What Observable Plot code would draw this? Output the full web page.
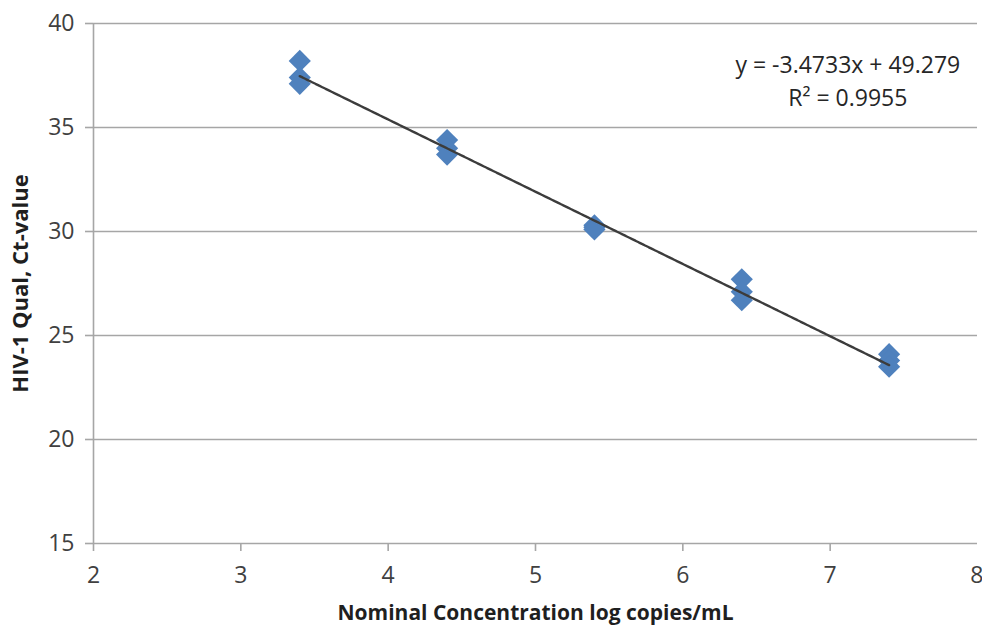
<!DOCTYPE html>
<html><head><meta charset="utf-8">
<script src="https://cdn.jsdelivr.net/npm/d3@7"></script>
<script src="https://cdn.jsdelivr.net/npm/@observablehq/plot@0.6"></script>
<style>body{margin:0;background:#fff}</style>
</head><body><div id="chart"></div>
<script>
const concentrations = [3.4, 3.4, 3.4, 4.4, 4.4, 4.4, 5.4, 5.4, 5.4, 6.4, 6.4, 6.4, 7.4, 7.4, 7.4];
const ctValues = [38.2, 37.4, 37.1, 34.4, 34.0, 33.7, 30.3, 30.2, 30.1, 27.7, 27.1, 26.7, 24.1, 23.8, 23.5];
const xTicks = [2, 3, 4, 5, 6, 7, 8];
const yTicks = [15, 20, 25, 30, 35, 40];
const fitSlope = -3.4733;
const fitIntercept = 49.279;
const fitR2 = 0.9955;
const equationLines = ["y = -3.4733x + 49.279", "R² = 0.9955"];
const equationPos = [{x: 7.12, y: 37.97}, {x: 7.12, y: 36.38}];

const points = concentrations.map((c, i) => ({x: c, y: ctValues[i]}));
const xExt = d3.extent(concentrations);
const fitLine = xExt.map(x => ({x, y: fitSlope * x + fitIntercept}));
const eqData = equationLines.map((t, i) => ({...equationPos[i], t}));

const grey = "#a6a6a6";
const tickFont = 23;
const chart = Plot.plot({
  width: 982,
  height: 626,
  marginLeft: 93,
  marginRight: 5,
  marginTop: 23,
  marginBottom: 83,
  style: {fontFamily: "'Open Sans', sans-serif", fontSize: tickFont + "px", color: "#404040", background: "#fff"},
  x: {domain: [2, 8], ticks: xTicks},
  y: {domain: [15, 40], ticks: yTicks},
  marks: [
    Plot.gridY(yTicks.filter(d => d > 15), {stroke: grey, strokeOpacity: 1, strokeWidth: 1.6}),
    Plot.ruleY([15], {stroke: grey, strokeWidth: 1.6}),
    Plot.ruleX([2], {stroke: grey, strokeWidth: 1.6}),
    Plot.axisY(yTicks, {tickSize: 8, tickPadding: 11, stroke: grey, strokeWidth: 1.6, fill: "#404040", label: null, fontSize: tickFont, tickFormat: "d"}),
    Plot.axisX(xTicks.slice(0, -1), {tickSize: 8, tickPadding: 15, stroke: grey, strokeWidth: 1.6, fill: "#404040", label: null, fontSize: tickFont, tickFormat: "d"}),
    Plot.axisX(xTicks.slice(-1), {tickSize: 8, tickPadding: 15, stroke: grey, strokeWidth: 1.6, fill: "#404040", label: null, fontSize: tickFont, tickFormat: "d", textAnchor: "end", dx: 6}),
    Plot.dot(points, {x: "x", y: "y", symbol: "diamond2", r: 10, fill: "#4f81bd", stroke: "none"}),
    Plot.line(fitLine, {x: "x", y: "y", stroke: "#3c3c3c", strokeWidth: 2.4, strokeDasharray: "3,0.6"}),
    Plot.text(eqData, {x: "x", y: "y", text: "t", fontSize: 23, fill: "#262626"}),
    Plot.text(["HIV-1 Qual, Ct-value"], {frameAnchor: "left", textAnchor: "middle", rotate: -90, dx: -73, fontWeight: "bold", fontSize: 22, fill: "#1f1f1f"}),
    Plot.text(["Nominal Concentration log copies/mL"], {frameAnchor: "bottom", dy: 76, fontWeight: "bold", fontSize: 21, fill: "#1f1f1f"})
  ]
});
document.getElementById("chart").append(chart);
</script>
</body></html>
